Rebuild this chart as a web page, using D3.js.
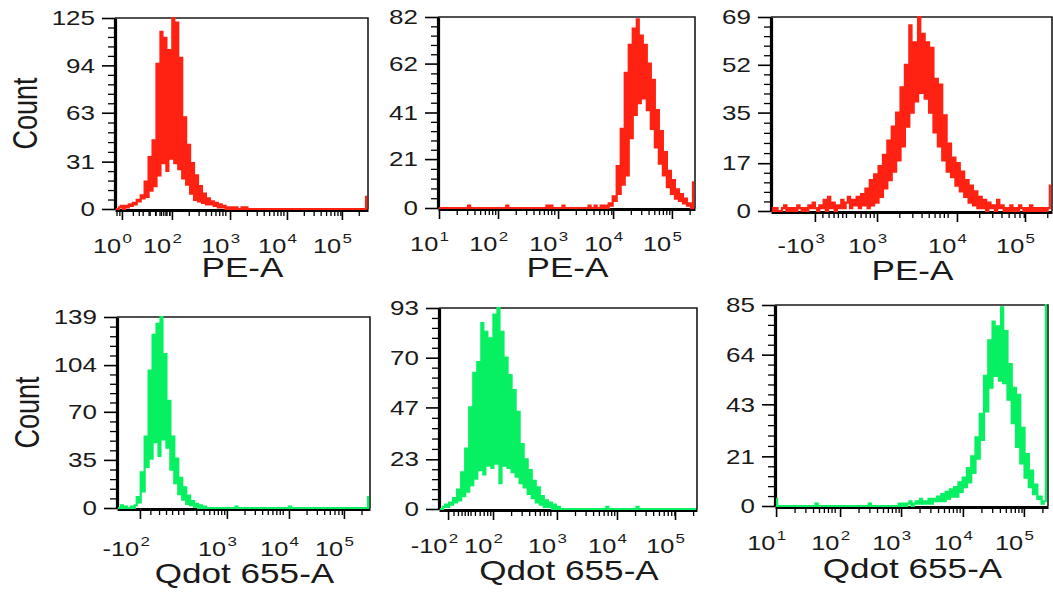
<!DOCTYPE html>
<html><head><meta charset="utf-8">
<script src="https://cdn.jsdelivr.net/npm/d3@7"></script>
<style>
html,body{margin:0;padding:0;background:#fff;}
svg{display:block;font-family:"Liberation Sans",Arial,Helvetica,sans-serif;}
</style></head><body>
<svg id="chart" width="1053" height="593"></svg>
<script>
// ---------- DATA (128 display channels per histogram) ----------
const pe1Counts = [0,0,1,2,0,2,1,3,2,4, 3,6,5,9,7,18,8,34,12,45, 15,95,22,116,30,112,25,104,33,125,
 30,122,26,99,20,60,16,42,10,30, 6,22,5,15,4,10,3,7,3,5, 2,4,1,3,1,2,0,1,0,1, 0,1,0,0,1,0,1,0,0,0,
 0,0,0,0,0,0,0,0,0,0, 0,0,0,0,0,0,0,0,0,0, 0,0,0,0,0,0,0,0,0,0, 0,0,0,0,0,0,0,0,0,0, 0,0,0,0,0,0,0,0,0,0,
 0,0,0,0,0,0,0,8];
const pe2Counts = [0,0,0,0,0,0,0,0,0,0, 0,0,0,0,0,1,0,0,0,0, 0,0,0,0,0,0,0,0,0,0, 0,0,0,0,1,0,0,0,0,0,
 0,0,0,0,0,0,0,0,0,0, 0,0,0,0,1,0,1,0,0,0, 0,0,1,0,0,0,0,0,0,0, 0,0,0,0,0,1,0,0,1,0,
 0,1,0,1,0,2,1,5,3,18, 6,34,10,58,14,70,30,77,40,81, 45,74,47,70,42,62,34,55,26,42, 19,33,14,24,9,16,6,12,4,8,
 3,6,2,4,1,2,0,11];
const pe3Counts = [1,0,1,0,0,1,2,0,1,0, 1,0,2,1,0,1,0,2,1,3, 1,0,2,1,4,0,5,1,3,0, 2,1,4,1,3,5,1,4,2,5,
 1,6,2,8,1,11,2,13,3,16, 5,20,8,25,11,30,14,35,18,44, 23,52,30,66,35,60,39,69,42,63, 40,60,35,58,28,47,23,45,18,34,
 14,24,12,19,9,17,7,14,5,11, 3,9,2,7,1,5,1,4,0,3, 1,2,0,4,1,2,0,1,0,2, 0,1,0,2,1,0,1,0,2,0,
 1,0,1,0,1,0,1,9];
const qd1Counts = [0,0,2,0,1,0,0,1,0,2, 8,4,26,12,52,30,100,36,126,48, 134,38,139,50,112,44,78,28,52,18,
 36,10,22,6,15,3,9,2,5,1, 3,0,2,0,1,0,0,0,0,0, 0,0,0,0,0,0,0,0,0,0, 1,0,0,0,0,0,0,0,0,0,
 0,0,0,0,0,0,0,0,0,0, 0,0,0,0,0,0,0,1,0,0, 0,0,0,0,0,0,0,0,0,0, 0,0,0,0,0,0,0,0,0,0, 0,0,0,0,0,0,0,0,0,0,
 0,0,0,0,0,0,0,8];
const qd2Counts = [0,0,1,2,1,3,2,5,3,9, 4,17,6,28,8,47,11,63,14,68, 18,86,16,82,20,79,19,90,21,93,
 12,82,20,70,19,62,17,55,15,45, 12,30,10,23,7,18,5,13,3,10, 2,6,1,4,1,3,0,2,0,1, 0,0,0,0,0,0,0,0,0,0,
 0,0,0,0,0,0,0,0,0,0, 0,0,0,1,0,0,0,0,0,0, 0,0,0,0,0,0,0,0,1,0, 0,0,0,0,0,0,0,0,0,0, 0,0,0,0,0,0,0,0,0,0,
 0,0,0,0,0,0,0,0];
const qd3Counts = [3,0,0,0,0,0,0,0,0,0, 0,0,0,0,0,0,0,0,0,1, 0,0,0,0,0,0,0,0,0,0, 0,0,0,0,0,0,0,0,0,0,
 0,0,0,0,1,0,0,0,0,0, 0,0,0,0,0,0,0,0,1,0, 1,0,1,2,0,1,2,1,3,1, 2,1,3,1,3,2,4,2,5,2,
 6,3,7,4,8,4,10,6,12,8, 16,10,21,14,29,20,39,28,55,40, 70,50,78,55,76,53,84,52,74,45, 60,35,50,25,47,18,33,12,22,8,
 15,5,9,3,4,1,2,85];

const pe1YTicks = [0,31,63,94,125];
const pe2YTicks = [0,21,41,62,82];
const pe3YTicks = [0,17,35,52,69];
const qd1YTicks = [0,35,70,104,139];
const qd2YTicks = [0,23,47,70,93];
const qd3YTicks = [0,21,43,64,85];

// x tick locations in display channels, with their labels
const pe1XTicks = [3.5, 28.8, 58.2, 87.0, 114.8];
const pe1XLabels = ["10^0","10^2","10^3","10^4","10^5"];
const pe2XTicks = [0.5, 29.9, 59.8, 87.2, 116.5];
const pe2XLabels = ["10^1","10^2","10^3","10^4","10^5"];
const pe3XTicks = [20.0, 48.3, 84.7, 115.7];
const pe3XLabels = ["-10^3","10^3","10^4","10^5"];
const qd1XTicks = [11.6, 55.6, 87.0, 114.8];
const qd1XLabels = ["-10^2","10^3","10^4","10^5"];
const qd2XTicks = [4.5, 26.8, 58.5, 88.3, 117.1];
const qd2XLabels = ["-10^2","10^2","10^3","10^4","10^5"];
const qd3XTicks = [0.5, 30.5, 59.1, 88.1, 116.7];
const qd3XLabels = ["10^1","10^2","10^3","10^4","10^5"];

const RED = "#ff2213", GREEN = "#06f062";

const panels = [
  {counts:pe1Counts, yTicks:pe1YTicks, xTicks:pe1XTicks, xLabels:pe1XLabels, title:"PE-A", color:RED, box:{l:115,t:18,r:368,b:209}, count:true, tY:44, ttY:68},
  {counts:pe2Counts, yTicks:pe2YTicks, xTicks:pe2XTicks, xLabels:pe2XLabels, title:"PE-A", color:RED, box:{l:438,t:17,r:695,b:208}, count:false, tY:43, ttY:69},
  {counts:pe3Counts, yTicks:pe3YTicks, xTicks:pe3XTicks, xLabels:pe3XLabels, title:"PE-A", color:RED, box:{l:771,t:17,r:1052,b:211}, count:false, tY:42, ttY:69},
  {counts:qd1Counts, yTicks:qd1YTicks, xTicks:qd1XTicks, xLabels:qd1XLabels, title:"Qdot 655-A", color:GREEN, box:{l:117,t:317,r:370,b:508}, count:true, tY:48, ttY:75},
  {counts:qd2Counts, yTicks:qd2YTicks, xTicks:qd2XTicks, xLabels:qd2XLabels, title:"Qdot 655-A", color:GREEN, box:{l:439,t:308,r:697,b:509}, count:false, tY:44, ttY:71},
  {counts:qd3Counts, yTicks:qd3YTicks, xTicks:qd3XTicks, xLabels:qd3XLabels, title:"Qdot 655-A", color:GREEN, box:{l:775,t:305,r:1048,b:506}, count:false, tY:44, ttY:72}
];

const SX = 1.3; // horizontal stretch of the original figure's text
const svg = d3.select("#chart");
svg.append("rect").attr("width",1053).attr("height",593).attr("fill","#fff");
const defs = svg.append("defs");

function parseLabel(s){
  const neg = s.startsWith("-");
  const exp = +s.split("^")[1];
  return {neg, exp, base:(neg?"-":"")+"10"};
}

function xMinor(chs, labels, n){
  const L = labels.map(parseLabel);
  const widths = [];
  for (let i=0;i<chs.length-1;i++){
    if(!L[i].neg && !L[i+1].neg) widths.push((chs[i+1]-chs[i])/(L[i+1].exp-L[i].exp));
  }
  const D = d3.median(widths);
  const out = [];
  chs.forEach((c,i)=>{
    const next = i<chs.length-1 ? chs[i+1] : n;
    const prev = i>0 ? chs[i-1] : 0;
    if (L[i].neg){
      [0.12,0.22,0.3,0.37,0.44,0.5].forEach(f=>out.push(c+(next-c)*f));
      return;
    }
    for(let k=2;k<=9;k++){const m=c+Math.log10(k)*D; if(m<next-0.3 && m<=n) out.push(m);}
    const back = i===0 || L[i-1].neg || (L[i].exp-L[i-1].exp>1);
    if (back){
      const lim = (i>0 && L[i-1].neg) ? prev+(c-prev)*0.55 : prev;
      for(let k=1;k<=9;k++){const m=c-D+Math.log10(k)*D; if(m>lim+0.3 && m>=0) out.push(m);}
    }
  });
  return out;
}

panels.forEach((p,idx)=>{
  const {l,t,r,b} = p.box;
  const w = r-l, h = b-t;
  const n = p.counts.length;
  const g = svg.append("g").attr("transform",`translate(${l},${t})`);
  const x = d3.scaleLinear().domain([0,n]).range([0,w]);
  const ymax = p.yTicks[p.yTicks.length-1];
  const y = d3.scaleLinear().domain([0,ymax]).range([h,0]);

  defs.append("clipPath").attr("id","clip"+idx).append("rect")
    .attr("x",0).attr("y",-1).attr("width",w+1).attr("height",h+2);

  // top / right frame
  g.append("path").attr("d",`M0,0H${w}V${h}`).attr("fill","none")
    .attr("stroke","#1a1a1a").attr("stroke-width",1.6);

  // y axis
  const yMin = [];
  for(let i=0;i<p.yTicks.length-1;i++){
    const a=p.yTicks[i], c=p.yTicks[i+1];
    for(let k=1;k<5;k++) yMin.push(a+(c-a)*k/5);
  }
  const yMinorAxis = g.append("g").call(d3.axisLeft(y).tickValues(yMin).tickSize(7).tickSizeOuter(0).tickFormat(""));
  yMinorAxis.select(".domain").remove();
  yMinorAxis.selectAll("line").attr("stroke","#000").attr("stroke-width",1.3);
  const yAx = g.append("g").call(d3.axisLeft(y).tickValues(p.yTicks).tickSize(13).tickSizeOuter(0).tickFormat(""));
  yAx.select(".domain").attr("stroke","#000").attr("stroke-width",3.2);
  yAx.selectAll("line").attr("stroke","#000").attr("stroke-width",1.6);
  g.selectAll(".ylab").data(p.yTicks).join("text").attr("class","ylab")
    .attr("transform",d=>`translate(-20,${y(d)}) scale(${SX},1)`)
    .attr("text-anchor","end").attr("dy","0.36em")
    .attr("font-size",20).attr("fill","#1a1a1a").text(d=>d);

  // x axis
  const xm = xMinor(p.xTicks, p.xLabels, n);
  const xMinorAxis = g.append("g").attr("transform",`translate(0,${h+1})`)
    .call(d3.axisBottom(x).tickValues(xm).tickSize(6).tickSizeOuter(0).tickFormat(""));
  xMinorAxis.select(".domain").remove();
  xMinorAxis.selectAll("line").attr("stroke","#000").attr("stroke-width",1.3);
  const xAx = g.append("g").attr("transform",`translate(0,${h+1})`)
    .call(d3.axisBottom(x).tickValues(p.xTicks).tickSize(10).tickSizeOuter(0).tickFormat(""));
  xAx.select(".domain").attr("stroke","#000").attr("stroke-width",3.2);
  xAx.selectAll("line").attr("stroke","#000").attr("stroke-width",1.6);
  p.xTicks.forEach((c,i)=>{
    const lab = parseLabel(p.xLabels[i]);
    const tx = g.append("text")
      .attr("transform",`translate(${x(c)+10},${h+p.tY}) scale(${SX},1)`)
      .attr("text-anchor","end").attr("fill","#1a1a1a");
    tx.append("tspan").attr("font-size",19.5).text(lab.base);
    tx.append("tspan").attr("font-size",13).attr("dy",-10).attr("dx",1).text(lab.exp);
  });

  // histogram trace
  const line = d3.line().x((d,i)=>x(i+0.5)).y(d=>y(Math.min(d,ymax))).curve(d3.curveStep);
  g.append("path").attr("clip-path",`url(#clip${idx})`).attr("d",line(p.counts))
    .attr("fill","none").attr("stroke",p.color).attr("stroke-width",2.2).attr("stroke-linejoin","miter");

  // titles
  g.append("text").attr("transform",`translate(${w/2+1},${h+p.ttY}) scale(${SX},1)`)
    .attr("text-anchor","middle").attr("font-size",27).attr("fill","#1a1a1a").text(p.title);
  if(p.count){
    g.append("text").attr("transform",`translate(-78,${h/2}) scale(${SX},1) rotate(-90)`)
      .attr("text-anchor","middle").attr("font-size",27).attr("fill","#1a1a1a").text("Count");
  }
});
</script>
</body></html>
